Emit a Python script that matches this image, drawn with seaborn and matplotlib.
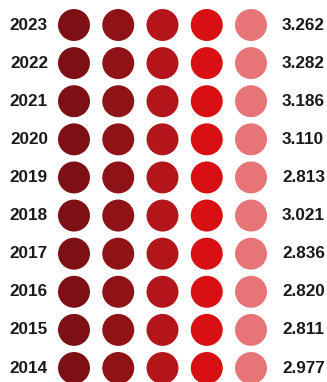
import pandas as pd
import matplotlib.pyplot as plt
import seaborn as sns

# Data
years = [2023, 2022, 2021, 2020, 2019, 2018, 2017, 2016, 2015, 2014]
values = ['3.262', '3.282', '3.186', '3.110', '2.813', '3.021', '2.836', '2.820', '2.811', '2.977']
dot_colors = ['#7d1014', '#8e1216', '#b3151a', '#d91013', '#e77477']

sns.set_style('white')
plt.rcParams['font.family'] = ['Liberation Sans', 'DejaVu Sans']

rows = []
for y in years:
    for i, c in enumerate(dot_colors):
        rows.append({'year': y, 'col': i, 'color': c})
df = pd.DataFrame(rows)

fig = plt.figure(figsize=(3.27, 3.82), dpi=100)
ax = fig.add_axes([0, 0, 1, 1])
sns.scatterplot(data=df, x='col', y='year', hue='color', palette=dict(zip(dot_colors, dot_colors)),
                s=530, linewidth=0, legend=False, ax=ax)

for y, v in zip(years, values):
    ax.text(-0.59, y, str(y), ha='right', va='center', fontsize=12.3, fontweight='bold', color='#1a1a1a')
    ax.text(4.70, y, v, ha='left', va='center', fontsize=12.3, fontweight='bold', color='#1a1a1a')

ax.set_xlim(-1.672, 5.717)
ax.set_ylim(2013.633, 2023.656)
ax.axis('off')

fig.savefig('out.png', dpi=100)
